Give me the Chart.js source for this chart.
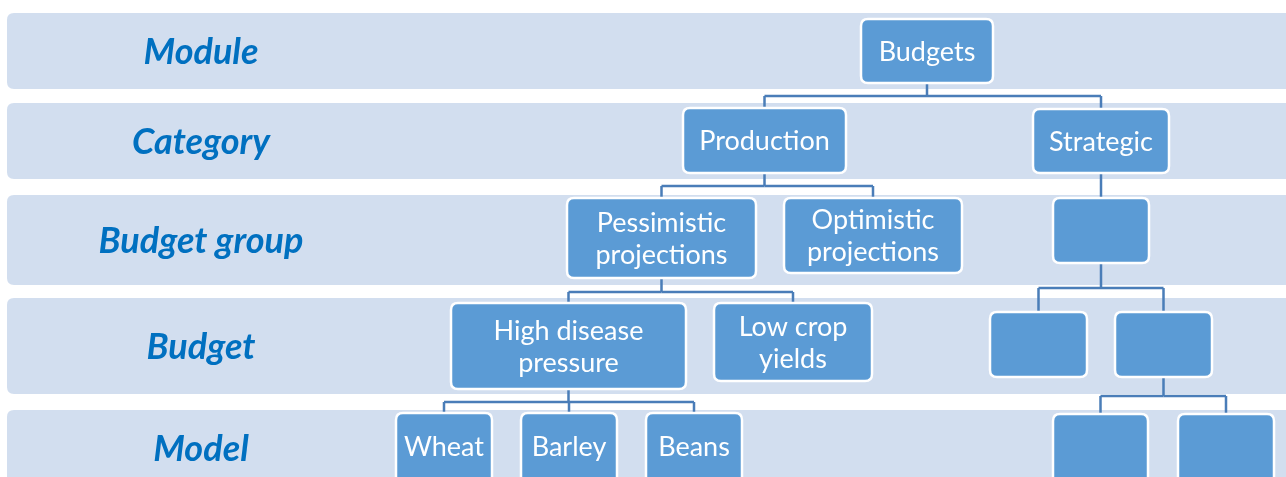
<!DOCTYPE html>
<html>
<head>
<meta charset="utf-8">
<script src="https://cdn.jsdelivr.net/npm/chart.js@4.4.1/dist/chart.umd.min.js"></script>
<style>
  html, body { margin: 0; padding: 0; background: #ffffff; }
  #wrap { width: 1286px; height: 477px; }
</style>
</head>
<body>
<div id="wrap"><canvas id="tree"></canvas></div>
<script>
// Hierarchy levels (one band per level)
const levelNames = ['Module', 'Category', 'Budget group', 'Budget', 'Model'];
const bandTop    = [13, 103, 195, 298, 410];
const bandBottom = [89, 179, 285, 394, 500];

// Nodes of the tree
const nodeLabels  = ['Budgets', 'Production', 'Strategic',
                     'Pessimistic\nprojections', 'Optimistic\nprojections', '',
                     'High disease\npressure', 'Low crop\nyields', '', '',
                     'Wheat', 'Barley', 'Beans', '', ''];
const nodeParents = [-1, 0, 0, 1, 1, 2, 3, 3, 5, 5, 6, 6, 6, 9, 9];
const nodeLeft    = [861, 683, 1033, 567, 784, 1053, 451, 714, 990, 1115, 396, 521, 646, 1053, 1178];
const nodeRight   = [993, 846, 1169, 756, 962, 1149, 686, 872, 1087, 1212, 492, 617, 742, 1148, 1274];
const nodeTop     = [19, 108, 109, 198, 198, 198, 303, 303, 312, 312, 413, 413, 413, 414, 414];
const nodeBottom  = [83, 173, 173, 278, 273, 263, 389, 381, 377, 377, 490, 490, 490, 490, 490];

// y of the horizontal elbow under each parent node
const elbowY = { 0: 96, 1: 186, 2: 186, 3: 292, 5: 288, 6: 402, 9: 396 };

const BAND_FILL = '#d2deef';
const NODE_FILL = '#5b9bd5';
const LINK_COLOR = '#4a7db8';
const LABEL_COLOR = '#0070c0';
const FONT = 'Lato';

function centerX(i) { return (nodeLeft[i] + nodeRight[i]) / 2; }

// connector segments built from parent/child relations
const linkDatasets = [];
function addSeg(x1, y1, x2, y2) {
  linkDatasets.push({
    type: 'scatter',
    data: [{ x: x1, y: y1 }, { x: x2, y: y2 }],
    showLine: true,
    borderColor: LINK_COLOR,
    borderWidth: 2.5,
    pointRadius: 0,
    pointHoverRadius: 0
  });
}
nodeParents.forEach((p, i) => {
  if (p < 0) return;
  const mid = elbowY[p];
  const px = centerX(p), cx = centerX(i);
  addSeg(cx, mid, cx, nodeTop[i]);
  addSeg(px, mid, cx, mid);
});
Object.keys(elbowY).forEach(k => {
  const p = Number(k);
  if (nodeParents.indexOf(p) < 0) return;
  addSeg(centerX(p), nodeBottom[p], centerX(p), elbowY[p]);
});

function roundRect(ctx, x, y, w, h, r) {
  ctx.beginPath();
  ctx.moveTo(x + r, y);
  ctx.lineTo(x + w - r, y);
  ctx.quadraticCurveTo(x + w, y, x + w, y + r);
  ctx.lineTo(x + w, y + h - r);
  ctx.quadraticCurveTo(x + w, y + h, x + w - r, y + h);
  ctx.lineTo(x + r, y + h);
  ctx.quadraticCurveTo(x, y + h, x, y + h - r);
  ctx.lineTo(x, y + r);
  ctx.quadraticCurveTo(x, y, x + r, y);
  ctx.closePath();
}

const bandsPlugin = {
  id: 'bands',
  beforeDatasetsDraw(chart) {
    const { ctx, scales: { x, y } } = chart;
    ctx.save();
    ctx.fillStyle = BAND_FILL;
    levelNames.forEach((name, i) => {
      const x0 = x.getPixelForValue(7), x1 = x.getPixelForValue(1300);
      const y0 = y.getPixelForValue(bandTop[i]), y1 = y.getPixelForValue(bandBottom[i]);
      roundRect(ctx, x0, y0, x1 - x0, y1 - y0, 7);
      ctx.fill();
    });
    ctx.restore();
  },
  afterDatasetsDraw(chart) {
    const { ctx, scales: { x, y } } = chart;
    ctx.save();
    // nodes
    nodeLabels.forEach((label, i) => {
      const x0 = x.getPixelForValue(nodeLeft[i]), x1 = x.getPixelForValue(nodeRight[i]);
      const y0 = y.getPixelForValue(nodeTop[i]), y1 = y.getPixelForValue(nodeBottom[i]);
      roundRect(ctx, x0, y0, x1 - x0, y1 - y0, 7);
      ctx.fillStyle = NODE_FILL;
      ctx.fill();
      ctx.lineWidth = 2.5;
      ctx.strokeStyle = '#ffffff';
      ctx.stroke();
      if (!label) return;
      const lines = label.split('\n');
      ctx.fillStyle = '#ffffff';
      ctx.font = '27px ' + FONT;
      ctx.textAlign = 'center';
      ctx.textBaseline = 'middle';
      const cy = lines.length > 1 ? (y0 + y1) / 2 + 1 : Math.min((y0 + y1) / 2, y0 + 33) + 1;
      lines.forEach((ln, k) => {
        ctx.fillText(ln, (x0 + x1) / 2, cy + (k - (lines.length - 1) / 2) * 32);
      });
    });
    // level labels
    ctx.fillStyle = LABEL_COLOR;
    ctx.font = 'italic bold 36px ' + FONT;
    ctx.textAlign = 'center';
    ctx.textBaseline = 'middle';
    levelNames.forEach((name, i) => {
      const top = y.getPixelForValue(bandTop[i]);
      const bot = y.getPixelForValue(Math.min(bandBottom[i], 477));
      const cy = i === 4 ? top + 38 : (top + bot) / 2;
      ctx.fillText(name, x.getPixelForValue(201), cy + 1);
    });
    ctx.restore();
  }
};

new Chart(document.getElementById('tree'), {
  type: 'scatter',
  data: { datasets: linkDatasets },
  options: {
    responsive: true,
    maintainAspectRatio: false,
    animation: false,
    events: [],
    layout: { padding: 0 },
    plugins: { legend: { display: false }, tooltip: { enabled: false } },
    scales: {
      x: { type: 'linear', min: 0, max: 1286, display: false },
      y: { type: 'linear', min: 0, max: 477, reverse: true, display: false }
    }
  },
  plugins: [bandsPlugin]
});
</script>
</body>
</html>
